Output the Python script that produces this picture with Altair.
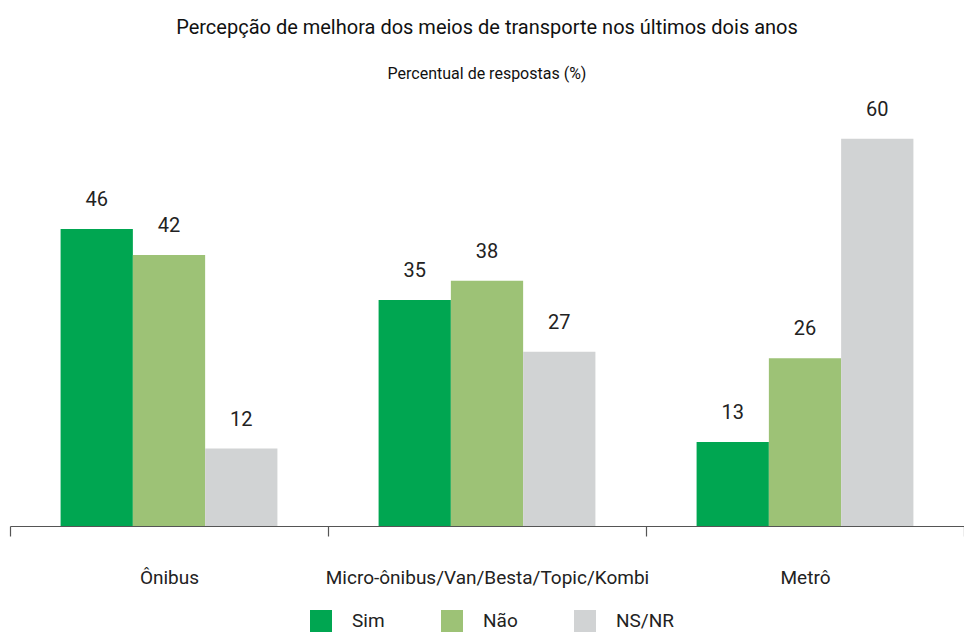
import altair as alt
import pandas as pd

categories = ["Ônibus", "Micro-ônibus/Van/Besta/Topic/Kombi", "Metrô"]
series = ["Sim", "Não", "NS/NR"]
sim = [46, 35, 13]
nao = [42, 38, 26]
nsnr = [12, 27, 60]
colors = ["#00a651", "#9dc276", "#d1d3d4"]

rows = []
for i, c in enumerate(categories):
    for s, vals in zip(series, [sim, nao, nsnr]):
        rows.append({"categoria": c, "resposta": s, "valor": vals[i]})
df = pd.DataFrame(rows)

FONT = "Roboto"

x = alt.X("categoria:N", sort=categories,
          scale=alt.Scale(paddingInner=0, paddingOuter=0),
          axis=alt.Axis(title=None, labelAngle=0, tickBand="extent", tickSize=10,
                        labelPadding=32, labelFontSize=19, labelFont=FONT,
                        labelColor="#222", domainColor="#555", tickColor="#555",
                        domainWidth=1.2, tickWidth=1.2, labelLimit=400))
xo = alt.XOffset("resposta:N", sort=series,
                 scale=alt.Scale(paddingInner=0, paddingOuter=0.7))
y = alt.Y("valor:Q", scale=alt.Scale(domain=[0, 66], nice=False), axis=None)

bars = alt.Chart(df).mark_bar().encode(
    x=x, xOffset=xo, y=y,
    color=alt.Color("resposta:N", sort=series,
                    scale=alt.Scale(domain=series, range=colors),
                    legend=alt.Legend(title=None, orient="none", direction="horizontal",
                                      legendX=300, legendY=510,
                                      symbolType="square", symbolSize=484,
                                      symbolStrokeWidth=0, labelFontSize=19,
                                      labelFont=FONT, labelColor="#222",
                                      labelOffset=20, columnPadding=56))
)

labels = alt.Chart(df).mark_text(baseline="bottom", dy=-19, fontSize=20,
                                 font=FONT, color="#222").encode(
    x=x, xOffset=xo, y=y, text=alt.Text("valor:Q")
)

chart = (bars + labels).properties(
    width=954, height=426,
    autosize=alt.AutoSizeParams(type="none"),
    padding={"left": 2, "top": 92, "right": 0, "bottom": 108},
    title=alt.Title("Percepção de melhora dos meios de transporte nos últimos dois anos",
                    subtitle="Percentual de respostas (%)",
                    anchor="middle", fontSize=20, subtitleFontSize=16,
                    font=FONT, subtitleFont=FONT, color="#111", subtitleColor="#111",
                    fontWeight="normal", subtitlePadding=28, offset=18)
).configure_view(stroke=None)

chart.save("out.html", embed_options={"renderer": "svg", "actions": False})
